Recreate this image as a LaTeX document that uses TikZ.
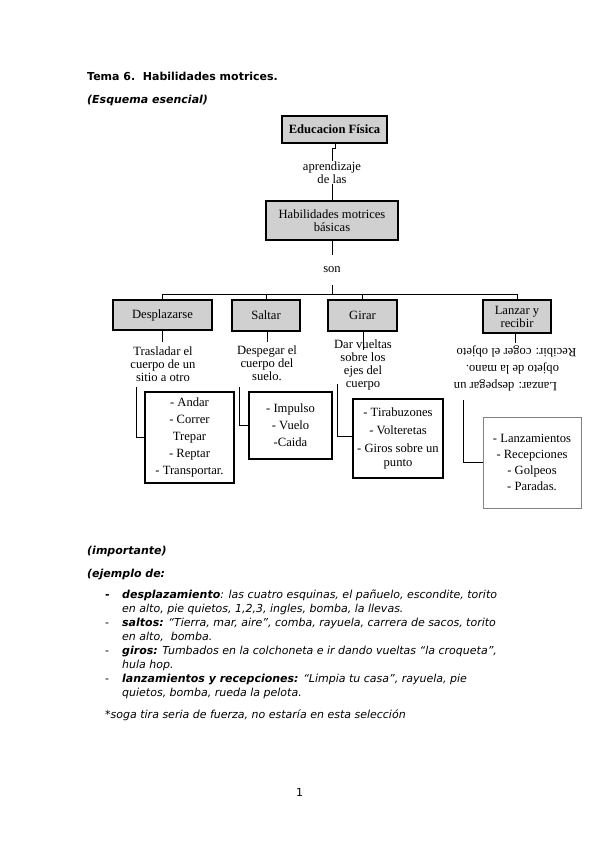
\documentclass[tikz,border=0pt]{standalone}
\usepackage{fontspec}
\setmainfont{Liberation Serif}
\newfontfamily\dvs{DejaVu Sans}
\definecolor{boxgray}{RGB}{208,208,208}
\definecolor{lightframe}{RGB}{130,130,130}
\tikzset{
  graybox/.style={draw, line width=1.3pt, fill=boxgray, align=center, inner sep=0pt,
    font=\fontsize{12.6}{13}\selectfont},
  listbox/.style={draw, line width=1.1pt, fill=white, align=center, inner sep=0pt,
    font=\fontsize{12.6}{17}\selectfont},
  softbox/.style={draw=lightframe, line width=0.7pt, fill=white, align=center, inner sep=0pt,
    font=\fontsize{12.6}{16}\selectfont},
  plaintext/.style={align=center, inner sep=0pt, font=\fontsize{12.6}{13}\selectfont},
  link/.style={line width=1pt},
  doctext/.style={anchor=base west, inner sep=0pt, font=\dvs\fontsize{11}{14}\selectfont},
  headtext/.style={anchor=base west, inner sep=0pt, font=\dvs\bfseries\fontsize{11}{14}\selectfont},
}
\begin{document}
\begin{tikzpicture}[x=1pt,y=-1pt]
\useasboundingbox[fill=white] (0,0) rectangle (599,848);

% headings
\node[headtext] (h1) at (87,81) {Tema 6.\ \ Habilidades motrices.};
\node[headtext] (h2) at (87,104) {\itshape (Esquema esencial)};

% top of diagram
\node[graybox, minimum width=105pt, minimum height=27pt] (edu) at (334.5,129.5) {\bfseries Educacion Física};
\node[plaintext] (apr) at (332,172.5) {aprendizaje\\de las};
\node[graybox, minimum width=132pt, minimum height=39pt] (hab) at (332,220.5) {Habilidades motrices\\básicas};
\node[plaintext] (son) at (332,270) {son};
\coordinate (habend) at (332,255);
\coordinate (sonlow) at (332,285);
\coordinate (bar) at (332,294);

\draw[link] ([xshift=0.5pt]edu.south) -- ++(0,5) -| (apr.north);
\draw[link] (apr.south) -- (apr.south |- hab.north);
\draw[link] (hab.south) -- (habend);
\draw[link] (sonlow) -- (bar);

% second level boxes
\node[graybox, minimum width=99pt, minimum height=30pt] (b1) at (162.5,315) {Desplazarse};
\node[graybox, minimum width=68pt, minimum height=31pt] (b2) at (266,315.5) {Saltar};
\node[graybox, minimum width=69pt, minimum height=31pt] (b3) at (362.5,315.5) {Girar};
\node[graybox, minimum width=68pt, minimum height=33pt] (b4) at (517,316.5) {Lanzar y\\recibir};

\draw[link] (b1.north) -- (b1.north |- bar) -- (b4.north |- bar) -- (b4.north);
\draw[link] (b2.north) -- (b2.north |- bar);
\draw[link] (b3.north) -- (b3.north |- bar);

% descriptions
\node[plaintext] (t1) at (163,364) {Trasladar el\\cuerpo de un\\sitio a otro};
\node[plaintext] (t2) at (267,363) {Despegar el\\cuerpo del\\suelo.};
\node[plaintext] (t3) at (363,364.5) {Dar vueltas\\sobre los\\ejes del\\cuerpo};
\node[plaintext, rotate=180, font=\fontsize{12.6}{17}\selectfont] (t4) at (516.5,369)
  {\rule{22pt}{0pt}Lanzar: despegar un\\\rule{8pt}{0pt}objeto de la mano.\\Recibir: coger el objeto};

\coordinate (t1end) at (162,342);
\coordinate (t2end) at (267,342);
\coordinate (t3end) at (363,350);
\coordinate (t4end) at (515,343);
\draw[link] (b1.south -| t1end) -- (t1end);
\draw[link] (b2.south -| t2end) -- (t2end);
\draw[link] (b3.south -| t3end) -- (t3end);
\draw[link] (b4.south -| t4end) -- (t4end);

% lists
\node[listbox, minimum width=89pt, minimum height=91pt] (l1) at (189.5,437.5)
  {- Andar\\- Correr\\Trepar\\- Reptar\\- Transportar.};
\node[listbox, minimum width=83pt, minimum height=67pt] (l2) at (290.5,425.5)
  {- Impulso\\- Vuelo\\-Caida};
\node[listbox, minimum width=90pt, minimum height=79pt, font=\fontsize{12.6}{14}\selectfont] (l3) at (398,438.5)
  {- Tirabuzones\\[4pt]- Volteretas\\[4pt]- Giros sobre un\\punto};
\node[softbox, minimum width=98pt, minimum height=91pt] (l4) at (532,462.5)
  {- Lanzamientos\\- Recepciones\\- Golpeos\\- Paradas.};

\coordinate (c1) at (136,387);
\coordinate (c2) at (239,387);
\coordinate (c3) at (337,384);
\coordinate (c4) at (463,400);
\draw[link] (c1) |- (l1.west);
\draw[link] (c2) |- (l2.west);
\draw[link] (c3) |- ([yshift=2.5pt]l3.west);
\draw[link] (c4) |- (l4.west);

% text below
\node[headtext] (imp) at (87,554) {\itshape (importante)};
\node[headtext] (eje) at (87,577) {\itshape (ejemplo de:};

\node[doctext] (d1) at (105,598) {\bfseries -};
\node[doctext] (s1) at (122,598) {\itshape\textbf{desplazamiento}: las cuatro esquinas, el pañuelo, escondite, torito};
\node[doctext] (s1b) at (122,612) {\itshape en alto, pie quietos, 1,2,3, ingles, bomba, la llevas.};
\node[doctext] (d2) at (105,626) {-};
\node[doctext] (s2) at (122,626) {\itshape\textbf{saltos:} “Tierra, mar, aire”, comba, rayuela, carrera de sacos, torito};
\node[doctext] (s2b) at (122,640) {\itshape en alto,\ \ bomba.};
\node[doctext] (d3) at (105,654) {-};
\node[doctext] (s3) at (122,654) {\itshape\textbf{giros:} Tumbados en la colchoneta e ir dando vueltas “la croqueta”,};
\node[doctext] (s3b) at (122,668) {\itshape hula hop.};
\node[doctext] (d4) at (105,682) {-};
\node[doctext] (s4) at (122,682) {\itshape\textbf{lanzamientos y recepciones:} “Limpia tu casa”, rayuela, pie};
\node[doctext] (s4b) at (122,696) {\itshape quietos, bomba, rueda la pelota.};
\node[doctext] (nota) at (105,718) {\itshape *soga tira seria de fuerza, no estaría en esta selección};

\node[doctext, anchor=base] (pg) at (299.5,796) {1};
\end{tikzpicture}
\end{document}
